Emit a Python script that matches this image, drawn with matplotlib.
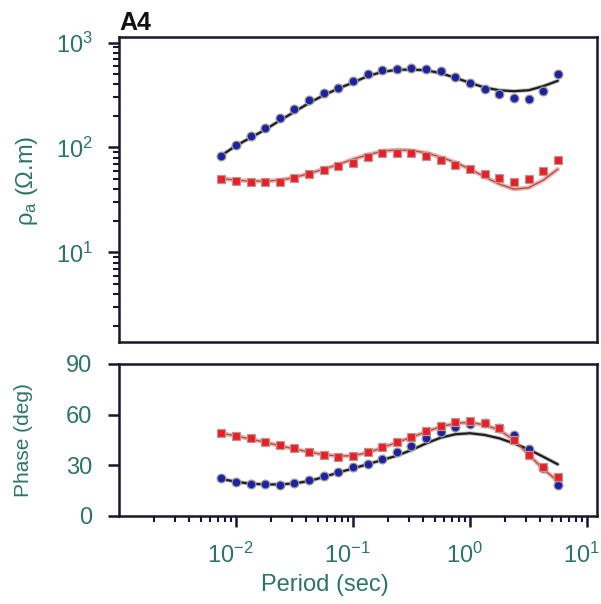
import numpy as np
import matplotlib
matplotlib.use("Agg")
import matplotlib.pyplot as plt
import matplotlib.transforms as mtransforms
from matplotlib.ticker import LogLocator, NullFormatter, FixedLocator

plt.rcParams['font.family'] = ['Liberation Sans', 'DejaVu Sans']
plt.rcParams['mathtext.fontset'] = 'custom'
plt.rcParams['mathtext.rm'] = 'Liberation Sans'
plt.rcParams['mathtext.default'] = 'regular'

# Periods (s): 8 per decade
period = [0.0075, 0.0100, 0.0133, 0.0178, 0.0237, 0.0316, 0.0422, 0.0562,
          0.075, 0.100, 0.133, 0.178, 0.237, 0.316, 0.422, 0.562,
          0.75, 1.00, 1.33, 1.78, 2.37, 3.16, 4.22, 5.62]

# Apparent resistivity (ohm.m)
rho_xy_obs = [83, 105, 128, 154, 189, 232, 281, 332, 373, 428, 499, 553,
              565, 574, 565, 533, 468, 416, 359, 320, 297, 293, 349, 507]
rho_xy_mod = [84, 104, 124, 148, 181, 219, 266, 315, 365, 416, 478, 526,
              550, 553, 544, 511, 461, 413, 373, 351, 344, 351, 384, 432]
rho_yx_obs = [49.9, 48.2, 47.1, 47.1, 47.1, 50.7, 55.7, 60.4, 66.4, 71.5, 80.9, 87.7,
              89.0, 87.7, 83.4, 76.4, 67.8, 61.7, 55.3, 50.7, 46.4, 49.9, 60.0, 75.2]
rho_yx_mod = [50.7, 48.8, 47.8, 47.8, 48.8, 51.8, 56.5, 62.1, 68.9, 77.4, 85.1, 92.2,
              95.1, 93.6, 89.0, 80.9, 72.0, 62.1, 52.6, 44.8, 40.1, 41.3, 48.8, 62.1]

# Phase (deg)
phi_xy_obs = [22.3, 19.9, 19.1, 18.7, 18.4, 19.5, 21.1, 23.5, 26.2, 29.0, 30.8, 33.6,
              37.7, 41.6, 46.0, 49.6, 52.5, 54.3, 54.9, 52.3, 48.0, 39.5, 28.6, 18.4]
phi_xy_mod = [21.9, 20.3, 19.1, 18.7, 18.7, 19.3, 20.7, 23.1, 25.7, 28.2, 30.6, 33.2,
              35.7, 39.1, 43.0, 46.4, 48.4, 49.0, 48.0, 46.0, 43.0, 39.5, 35.1, 30.6]
phi_yx_obs = [49.3, 47.4, 46.0, 44.0, 42.0, 40.1, 38.1, 36.1, 35.1, 35.7, 38.1, 40.9,
              44.0, 47.0, 50.5, 53.5, 55.5, 56.4, 54.9, 52.3, 45.0, 36.1, 29.2, 23.3]
phi_yx_mod = [49.0, 47.4, 45.6, 43.6, 41.6, 39.7, 37.9, 36.3, 35.5, 35.7, 37.5, 40.4,
              43.6, 46.6, 49.9, 52.9, 54.9, 55.5, 53.9, 50.9, 45.0, 36.5, 27.8, 20.7]

label_col = '#2b7566'
spine_col = '#1b1530'
blue = '#1c22a8'
red = '#ee1c24'

fig = plt.figure(figsize=(6.01, 6.04), dpi=100)
L, R = 119/601, 597/601
ax1 = fig.add_axes([L, 1-342/604, R-L, (342-37)/604])
ax2 = fig.add_axes([L, 1-516/604, R-L, (516-364)/604])

def model_line(ax, x, y, kind):
    if kind == 'xy':
        ax.plot(x, y, color='#9a9a9a', lw=3.0, alpha=0.6, zorder=2, solid_capstyle='round')
        ax.plot(x, y, color='#1e1e1e', lw=1.6, zorder=3, solid_capstyle='round')
    else:
        ax.plot(x, y, color='#f2b4b0', lw=3.2, zorder=2, solid_capstyle='round')
        ax.plot(x, y, color='#b0504a', lw=1.0, zorder=3, solid_capstyle='round')

def obs(ax, x, y, kind):
    if kind == 'xy':
        ax.plot(x, y, 'o', ms=6.3, mfc=blue, mec='#a09a90', mew=0.9, zorder=4, ls='none')
    else:
        ax.plot(x, y, 's', ms=6.3, mfc=red, mec='#b09a98', mew=0.9, zorder=4, ls='none')

for ax in (ax1, ax2):
    ax.set_xscale('log')
    ax.set_xlim(1e-3, 10**1.085)
    for s in ax.spines.values():
        s.set_color(spine_col)
        s.set_linewidth(1.8)
    ax.tick_params(which='major', direction='out', length=8, width=1.8,
                   color=spine_col, labelcolor=label_col, labelsize=17)
    ax.tick_params(which='minor', direction='out', length=4, width=1.5, color=spine_col)
    ax.tick_params(axis='y', which='major', pad=11)

# top panel
model_line(ax1, period, rho_xy_mod, 'xy')
model_line(ax1, period, rho_yx_mod, 'yx')
obs(ax1, period, rho_xy_obs, 'xy')
obs(ax1, period, rho_yx_obs, 'yx')
ax1.set_yscale('log')
ax1.set_ylim(1.4, 1130)
ax1.set_yticks([10, 100, 1000])
ax1.yaxis.set_minor_locator(LogLocator(base=10, subs=np.arange(2, 10)))
ax1.yaxis.set_minor_formatter(NullFormatter())
ax1.tick_params(axis='x', which='both', bottom=False, labelbottom=False)
ax1.set_ylabel(r'$\rho_a$ ($\Omega$.m)', color=label_col, fontsize=17)
ax1.yaxis.set_label_coords(-(119-40)/478, 0.53)
ax1.text(0.0, 1.008, 'A4', transform=ax1.transAxes, fontsize=18,
         fontweight='bold', color='#111111', ha='left', va='bottom')

# bottom panel
model_line(ax2, period, phi_xy_mod, 'xy')
model_line(ax2, period, phi_yx_mod, 'yx')
obs(ax2, period, phi_xy_obs, 'xy')
obs(ax2, period, phi_yx_obs, 'yx')
ax2.set_ylim(0, 90)
ax2.set_yticks([0, 30, 60, 90])
ax2.xaxis.set_major_locator(FixedLocator([1e-2, 1e-1, 1e0, 1e1]))
ax2.xaxis.set_minor_locator(LogLocator(base=10, subs=np.arange(2, 10)))
ax2.xaxis.set_minor_formatter(NullFormatter())
ax2.tick_params(axis='x', which='major', pad=11)
ax2.set_ylabel('Phase (deg)', color=label_col, fontsize=15)
ax2.yaxis.set_label_coords(-(119-33)/478, 0.5)
ax2.set_xlabel('Period (sec)', color=label_col, fontsize=17)
ax2.xaxis.set_label_coords((325-119)/478, -(574-516)/152)

# shift x tick labels slightly left (as in the reference)
offset = mtransforms.ScaledTranslation(-6/100, 0, fig.dpi_scale_trans)
for lab in ax2.get_xticklabels():
    lab.set_transform(lab.get_transform() + offset)

fig.savefig('out.png', dpi=100)
